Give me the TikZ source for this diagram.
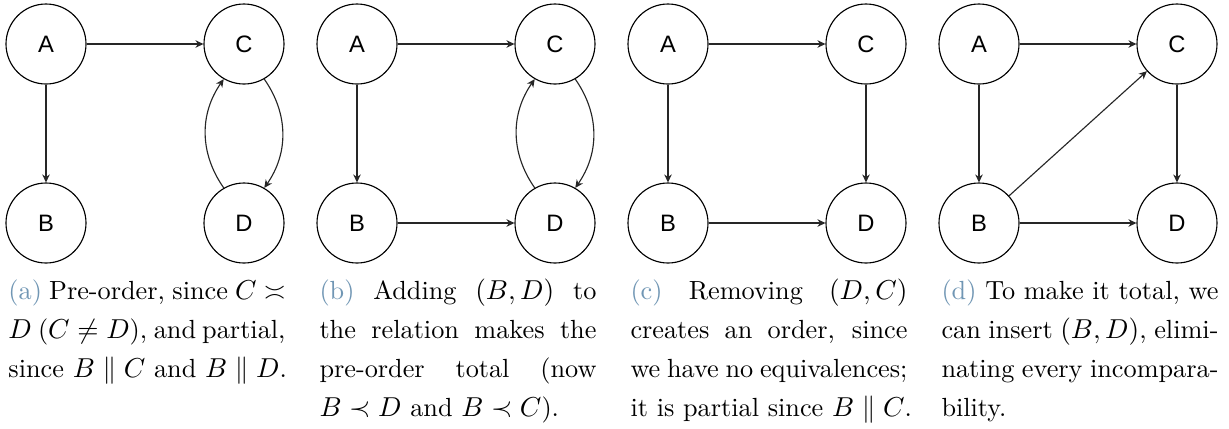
\documentclass[tikz,border=0pt]{standalone}
\usepackage{fontspec}
\usetikzlibrary{arrows.meta}
\newfontfamily\nodefont{Liberation Sans}
\definecolor{capblue}{RGB}{112,150,180}
\newlength\capw
\setlength\capw{110.8pt}
\newcommand\capline[1]{\hbox to\capw{#1}}
\newcommand\capend[1]{\hbox{#1}}
\tikzset{
  vtx/.style={circle, draw=black, line width=0.45pt, minimum size=32pt, inner sep=0pt, font=\nodefont\fontsize{9.5pt}{11pt}\selectfont},
  arr/.style={-{Stealth[length=3.2pt,width=3pt]}, line width=0.45pt, draw=black!85},
  capbox/.style={anchor=base west, inner sep=0pt, font=\fontsize{10.5pt}{15.6pt}\selectfont}
}
\begin{document}
\begin{tikzpicture}[x=0.4pt,y=-0.4pt]
\fill[white] (0,0) rectangle (1229,428);
\path[use as bounding box] (0,0) rectangle (1229,428);
\foreach \k/\dx in {a/0,b/311,c/622,d/933}{
  \node[vtx] (A\k) at (46+\dx,44) {A};
  \node[vtx] (C\k) at (244+\dx,44) {C};
  \node[vtx] (B\k) at (46+\dx,223) {B};
  \node[vtx] (D\k) at (244+\dx,223) {D};
}
% (a)
\draw[arr] (Aa) -- (Ca);
\draw[arr] (Aa) -- (Ba);
\draw[arr] (Ca.-60) to[out=-55,in=55] (Da.60);
\draw[arr] (Da.120) to[out=125,in=-125] (Ca.-120);
% (b)
\draw[arr] (Ab) -- (Cb);
\draw[arr] (Ab) -- (Bb);
\draw[arr] (Bb) -- (Db);
\draw[arr] (Cb.-60) to[out=-55,in=55] (Db.60);
\draw[arr] (Db.120) to[out=125,in=-125] (Cb.-120);
% (c)
\draw[arr] (Ac) -- (Cc);
\draw[arr] (Ac) -- (Bc);
\draw[arr] (Bc) -- (Dc);
\draw[arr] (Cc) -- (Dc);
% (d)
\draw[arr] (Ad) -- (Cd);
\draw[arr] (Ad) -- (Bd);
\draw[arr] (Bd) -- (Dd);
\draw[arr] (Cd) -- (Dd);
\draw[arr] (Bd) -- (Cd);
% captions
\node[capbox] (capa) at (8,299) {\vtop{\hsize=\capw\baselineskip=15.6pt
  \capline{\textcolor{capblue}{(a)} Pre-order, since $C \asymp$}
  \capline{$D$ ($C \neq D$), and partial,}
  \capend{since $B \parallel C$ and $B \parallel D$.}}};
\node[capbox] (capb) at (319,299) {\vtop{\hsize=\capw\baselineskip=15.6pt
  \capline{\textcolor{capblue}{(b)} Adding $(B, D)$ to}
  \capline{the relation makes the}
  \capline{pre-order total (now}
  \capend{$B \prec D$ and $B \prec C$).}}};
\node[capbox] (capc) at (630,299) {\vtop{\hsize=\capw\baselineskip=15.6pt
  \capline{\textcolor{capblue}{(c)} Removing $(D, C)$}
  \capline{creates an order, since}
  \capline{we have no equivalences;}
  \capend{it is partial since $B \parallel C$.}}};
\node[capbox] (capd) at (941,299) {\vtop{\hsize=\capw\baselineskip=15.6pt
  \capline{\textcolor{capblue}{(d)} To make it total, we}
  \capline{can insert $(B, D)$, elimi-}
  \capline{nating every incompara-}
  \capend{bility.}}};
\end{tikzpicture}
\end{document}
